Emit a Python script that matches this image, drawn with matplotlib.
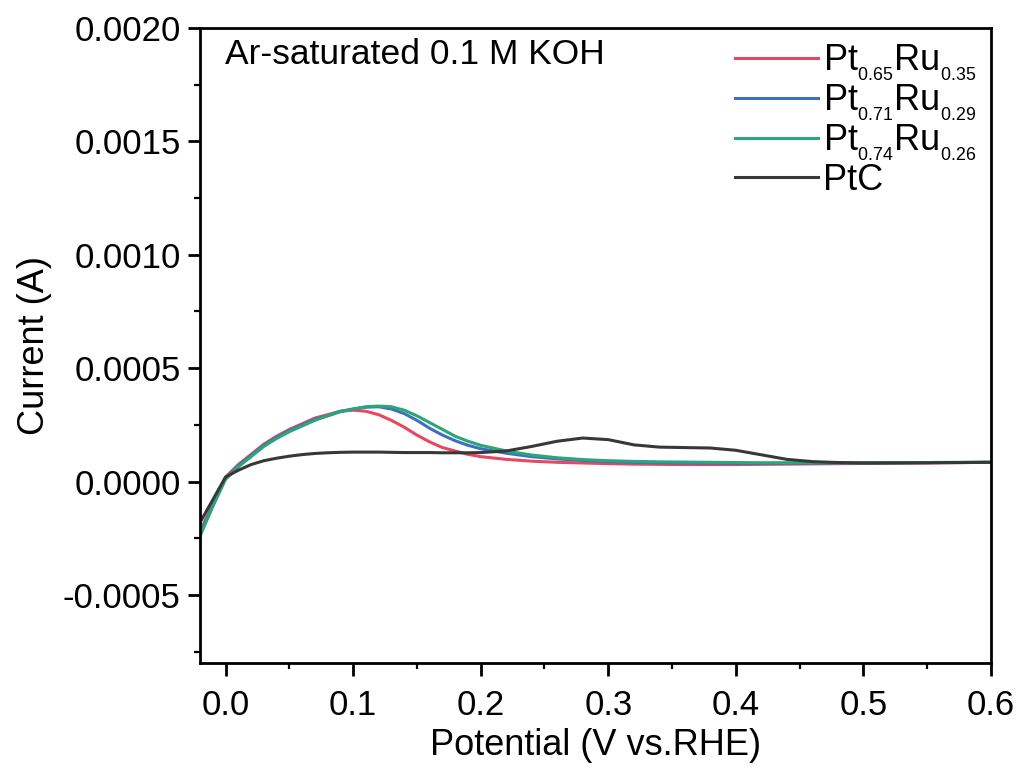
import matplotlib
matplotlib.use("Agg")
import matplotlib.pyplot as plt
from matplotlib.ticker import MultipleLocator, FormatStrFormatter

plt.rcParams['font.family'] = ['Liberation Sans', 'DejaVu Sans']
plt.rcParams['mathtext.fontset'] = 'custom'
plt.rcParams['mathtext.rm'] = 'Liberation Sans'
plt.rcParams['mathtext.it'] = 'Liberation Sans'
plt.rcParams['mathtext.default'] = 'regular'

potential = [-0.02, -0.01, 0.0, 0.01, 0.02, 0.03, 0.04, 0.05, 0.06, 0.07, 0.08, 0.09, 0.10,
             0.11, 0.12, 0.13, 0.14, 0.15, 0.16, 0.17, 0.18, 0.19, 0.20, 0.22, 0.24, 0.26,
             0.28, 0.30, 0.32, 0.34, 0.36, 0.38, 0.40, 0.42, 0.44, 0.46, 0.48, 0.50, 0.55, 0.60]

pt65 = [-2.2, -1.0, 0.2, 0.75, 1.2, 1.65, 2.0, 2.3, 2.55, 2.8, 2.95, 3.1, 3.15,
        3.1, 2.95, 2.7, 2.4, 2.05, 1.75, 1.5, 1.35, 1.2, 1.1, 0.98, 0.9, 0.85,
        0.82, 0.79, 0.77, 0.76, 0.75, 0.75, 0.75, 0.76, 0.77, 0.78, 0.79, 0.8, 0.82, 0.85]
pt71 = [-2.3, -1.05, 0.15, 0.7, 1.15, 1.6, 1.95, 2.25, 2.5, 2.75, 2.9, 3.1, 3.2,
        3.28, 3.3, 3.2, 3.0, 2.7, 2.35, 2.05, 1.8, 1.6, 1.45, 1.25, 1.1, 1.0,
        0.93, 0.88, 0.85, 0.83, 0.82, 0.81, 0.8, 0.8, 0.81, 0.81, 0.82, 0.82, 0.84, 0.85]
pt74 = [-2.4, -1.1, 0.1, 0.65, 1.1, 1.55, 1.9, 2.2, 2.45, 2.7, 2.9, 3.08, 3.2,
        3.3, 3.33, 3.3, 3.15, 2.9, 2.6, 2.3, 2.0, 1.78, 1.6, 1.35, 1.17, 1.05,
        0.97, 0.92, 0.89, 0.87, 0.86, 0.85, 0.84, 0.83, 0.83, 0.83, 0.83, 0.83, 0.84, 0.85]
ptc = [-1.8, -0.8, 0.2, 0.5, 0.75, 0.92, 1.03, 1.12, 1.19, 1.24, 1.27, 1.29, 1.3,
       1.3, 1.3, 1.29, 1.28, 1.28, 1.28, 1.27, 1.27, 1.27, 1.28, 1.35, 1.55, 1.78,
       1.92, 1.85, 1.62, 1.52, 1.5, 1.48, 1.38, 1.18, 0.98, 0.88, 0.84, 0.82, 0.83, 0.85]

labels = [r'Pt$_{{}_{0.65}}$Ru$_{{}_{0.35}}$', r'Pt$_{{}_{0.71}}$Ru$_{{}_{0.29}}$',
          r'Pt$_{{}_{0.74}}$Ru$_{{}_{0.26}}$', 'PtC']
colors = ['#e8475f', '#3f6fc0', '#2ba57a', '#383838']
series = [pt65, pt71, pt74, ptc]

fig = plt.figure(figsize=(10.16, 7.76), dpi=100)
ax = fig.add_axes([0.1969, 0.1456, 0.7785, 0.8183])

for ys, c, lab in zip(series, colors, labels):
    ax.plot(potential, [v * 1e-4 for v in ys], color=c, lw=2.2, label=lab)

ax.set_xlim(-0.02, 0.6)
ax.set_ylim(-0.0008, 0.0020)
ax.xaxis.set_major_locator(MultipleLocator(0.1))
ax.xaxis.set_minor_locator(MultipleLocator(0.05))
ax.yaxis.set_major_locator(MultipleLocator(0.0005))
ax.yaxis.set_minor_locator(MultipleLocator(0.00025))
ax.xaxis.set_major_formatter(FormatStrFormatter('%.1f'))
ax.yaxis.set_major_formatter(FormatStrFormatter('%.4f'))
for s in ax.spines.values():
    s.set_linewidth(2.0)
ax.tick_params(which='major', direction='out', length=9, width=2.0, labelsize=25)
ax.tick_params(axis='x', which='major', pad=10)
ax.tick_params(axis='y', which='major', pad=5)
ax.tick_params(which='minor', direction='out', length=4.5, width=1.6)
ax.set_xlabel('Potential (V vs.RHE)', fontsize=26, labelpad=4)
ax.set_ylabel('Current (A)', fontsize=26, labelpad=8)
ax.text(0.032, 0.985, 'Ar-saturated 0.1 M KOH', transform=ax.transAxes, fontsize=25.5,
        va='top', ha='left')
ax.legend(loc='upper right', frameon=False, fontsize=26, handlelength=2.3,
          handletextpad=0.15, labelspacing=0.0, borderaxespad=0.1, borderpad=0.3)

fig.savefig('out.png', dpi=100)
